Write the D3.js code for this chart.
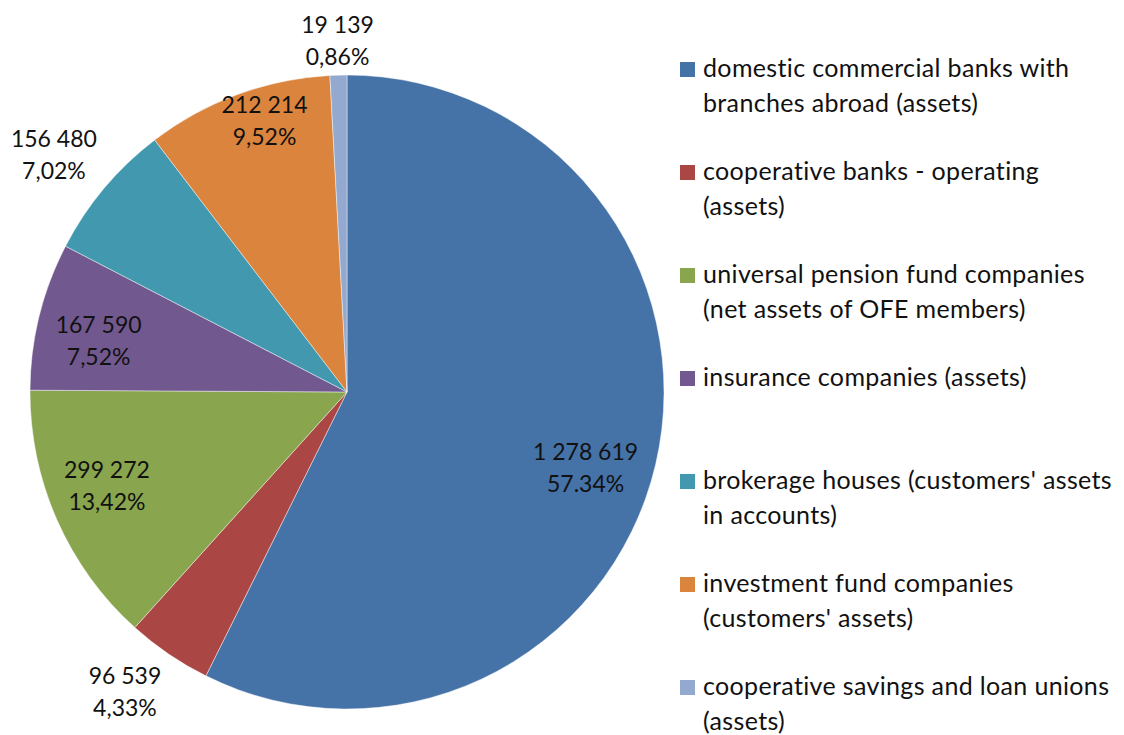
<!DOCTYPE html>
<html>
<head>
<meta charset="utf-8">
<script src="https://cdn.jsdelivr.net/npm/d3@7"></script>
<style>
  html, body { margin: 0; padding: 0; background: #fff; }
  svg { display: block; }
  text { font-family: Lato, "Open Sans", sans-serif; fill: #111; }
</style>
</head>
<body>
<svg id="chart" width="1124" height="735"></svg>
<script>
// ---- data ----
const categories = [
  "domestic commercial banks with branches abroad (assets)",
  "cooperative banks - operating (assets)",
  "universal pension fund companies (net assets of OFE members)",
  "insurance companies (assets)",
  "brokerage houses (customers' assets in accounts)",
  "investment fund companies (customers' assets)",
  "cooperative savings and loan unions (assets)"
];
const legendLines = [
  ["domestic commercial banks with", "branches abroad (assets)"],
  ["cooperative banks - operating", "(assets)"],
  ["universal pension fund companies", "(net assets of OFE members)"],
  ["insurance companies (assets)"],
  ["brokerage houses (customers' assets", "in accounts)"],
  ["investment fund companies", "(customers' assets)"],
  ["cooperative savings and loan unions", "(assets)"]
];
const values = [1278619, 96539, 299272, 167590, 156480, 212214, 19139];
const valueLabels = ["1 278 619", "96 539", "299 272", "167 590", "156 480", "212 214", "19 139"];
const percentLabels = ["57.34%", "4,33%", "13,42%", "7,52%", "7,02%", "9,52%", "0,86%"];
const colors = ["#4572A7", "#AA4643", "#89A54E", "#71588F", "#4198AF", "#DB843D", "#93A9CF"];

// ---- layout (label placement: radius factor, angle nudge in degrees) ----
const labelPlacement = [[0.79, 4.5], [1.177, 2.3], [0.813, 2.5], [0.80, -2.2], [1.19, -1.0], [0.894, 3.3], [1.109, 0]];

const svg = d3.select("#chart");
const cx = 347, cy = 392, R = 317;

const pie = d3.pie().value(d => d).sort(null);
const arcs = pie(values);
const arc = d3.arc().innerRadius(0).outerRadius(R);

const g = svg.append("g").attr("transform", `translate(${cx},${cy})`);
g.selectAll("path.slice")
  .data(arcs)
  .enter().append("path")
  .attr("class", "slice")
  .attr("d", arc)
  .attr("fill", (d, i) => colors[i])
  .attr("stroke", "rgba(255,255,255,0.55)")
  .attr("stroke-width", 0.8);

// labels
const labels = g.selectAll("g.lbl")
  .data(arcs)
  .enter().append("g")
  .attr("class", "lbl")
  .attr("transform", (d, i) => {
    const mid = (d.startAngle + d.endAngle) / 2 + labelPlacement[i][1] * Math.PI / 180;
    const r = R * labelPlacement[i][0];
    return `translate(${r * Math.sin(mid)},${-r * Math.cos(mid)})`;
  });
labels.append("text")
  .attr("text-anchor", "middle")
  .attr("y", -8)
  .style("font-size", "23px")
  .text((d, i) => valueLabels[i]);
labels.append("text")
  .attr("text-anchor", "middle")
  .attr("y", 24)
  .style("font-size", "23px")
  .text((d, i) => percentLabels[i]);

// legend
const legendY = d3.scalePoint().domain(d3.range(categories.length)).range([77, 695]);
const lg = svg.append("g");
const items = lg.selectAll("g.item")
  .data(categories)
  .enter().append("g")
  .attr("class", "item")
  .attr("transform", (d, i) => `translate(680,${legendY(i)})`);
items.append("rect")
  .attr("x", 0).attr("y", -15)
  .attr("width", 15).attr("height", 15)
  .attr("fill", (d, i) => colors[i]);
items.each(function (d, i) {
  const t = d3.select(this).append("text")
    .attr("x", 23).attr("y", 0)
    .style("font-size", "25px")
    .style("letter-spacing", "0.35px");
  legendLines[i].forEach((line, j) => {
    t.append("tspan").attr("x", 23).attr("y", j * 35).text(line);
  });
});
</script>
</body>
</html>
